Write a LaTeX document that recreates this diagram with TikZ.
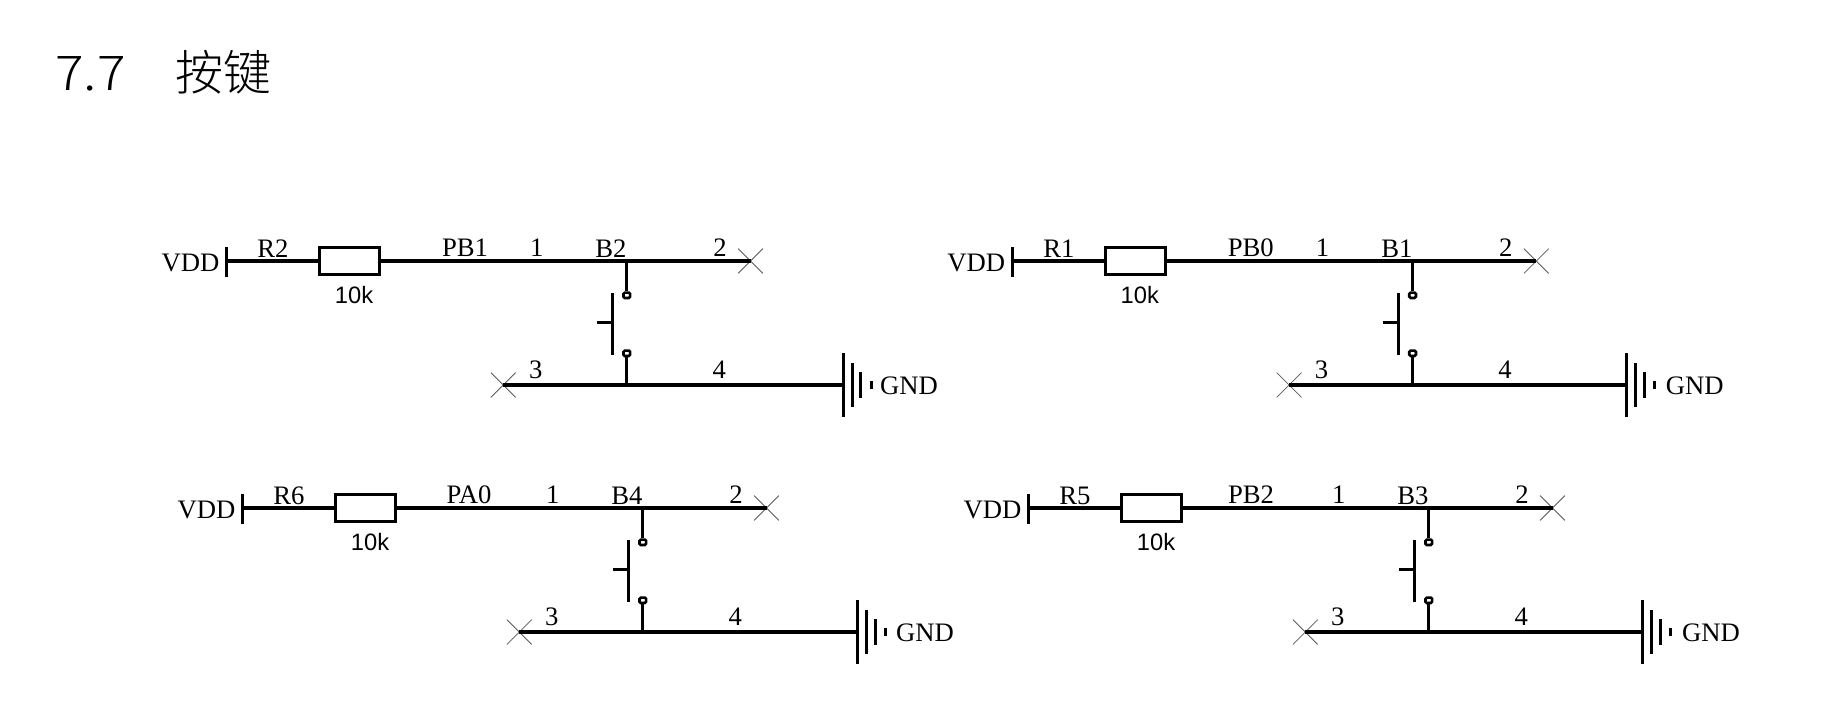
\documentclass[tikz,border=0pt]{standalone}
\usepackage{fontspec}
\setmainfont{Liberation Serif}
\newfontfamily\labelsans{Liberation Sans}
\newfontfamily\cjkfont{Noto Sans CJK SC Light}
\usetikzlibrary{shapes.misc}

\tikzset{
  wire/.style={line width=2.4pt},
  nc/.style={draw=black!65, cross out, line width=0.6pt, minimum size=18pt, inner sep=0pt},
  res/.style={draw, line width=2.4pt, minimum width=45pt, minimum height=20.5pt, inner sep=0pt},
  pad/.style={draw, line width=2pt, rounded corners=1pt, minimum width=5pt, minimum height=4pt, inner sep=0pt},
  lab/.style={anchor=base, inner sep=0pt, font=\fontsize{20}{20}\selectfont},
  val/.style={anchor=base, inner sep=0pt, font=\labelsans\fontsize{17.8}{18}\selectfont},
  head/.style={anchor=base west, inner sep=0pt, font=\cjkfont\fontsize{36}{36}\selectfont}
}

% one key with its pull-up: prefix, dx, dy, resistor, net, key, net label x, ground x
\newcommand{\keycell}[8]{
\begin{scope}[shift={(#2,#3)}, name prefix=#1-]
  \coordinate (vdd) at (226.5,261);
  \coordinate (vddt) at (226.5,247);
  \coordinate (vddb) at (226.5,277);
  \node[res] (r) at (349.5,261) {};
  \node[nc] (nct) at (750.5,261) {};
  \node[nc] (ncb) at (503.3,385) {};
  \coordinate (jt) at (626.3,261);
  \coordinate (jb) at (626.3,385);
  \node[pad] (pt) at (626.8,295.3) {};
  \node[pad] (pb) at (626.8,353.3) {};
  \coordinate (gnd) at (#8,385);
  \coordinate (btnt) at (612.3,293);
  \coordinate (btnb) at (612.3,354.5);
  \coordinate (btnh) at (596.7,322.7);
  \draw[wire] (vddt) -- (vddb);
  \draw[wire] (vdd) -- (r);
  \draw[wire] (r) -- (nct.center);
  \draw[wire] (jt) -- (jt |- pt.north);
  \draw[wire] (jb |- pb.south) -- (jb);
  \draw[wire] (ncb.center) -- (gnd);
  \draw[wire] (btnt) -- (btnb);
  \draw[wire] (btnh) -- (btnh -| btnt);
  % ground bars
  \draw[wire] (gnd) ++(0,-31.7) -- ++(0,63.4);
  \draw[wire] (gnd) ++(9,-22) -- ++(0,44);
  \draw[wire] (gnd) ++(17.5,-12.7) -- ++(0,25.4);
  \draw[wire] (gnd) ++(28,-4) -- ++(0,8);
  % labels
  \node[lab] (lvdd) at (190.5,271) {VDD};
  \node[lab] (lr) at (273,257) {#4};
  \node[val] (lv) at (354,303) {10k};
  \node[lab] (ln) at (#7,256) {#5};
  \node[lab] (l1) at (536.7,256) {1};
  \node[lab] (lk) at (611,257.5) {#6};
  \node[lab] (l2) at (720,256) {2};
  \node[lab] (l3) at (535.7,378.7) {3};
  \node[lab] (l4) at (719.3,378.7) {4};
  \node[lab] (lgnd) at (909,394) {GND};
\end{scope}
}

\begin{document}
\begin{tikzpicture}[x=0.75pt, y=-0.75pt]
\useasboundingbox (0,0) rectangle (1828,726);
\node[head] (numb) at (55,90) {\scalebox{1.11}[1]{7.7}};
\node[head] (titl) at (175,90) {按键};
\keycell{a}{0}{0}{R2}{PB1}{B2}{465}{843.3}
\keycell{b}{785.8}{0}{R1}{PB0}{B1}{465}{841}
\keycell{c}{16}{247}{R6}{PA0}{B4}{453}{841.6}
\keycell{d}{802}{247}{R5}{PB2}{B3}{449}{840.6}
\end{tikzpicture}
\end{document}
